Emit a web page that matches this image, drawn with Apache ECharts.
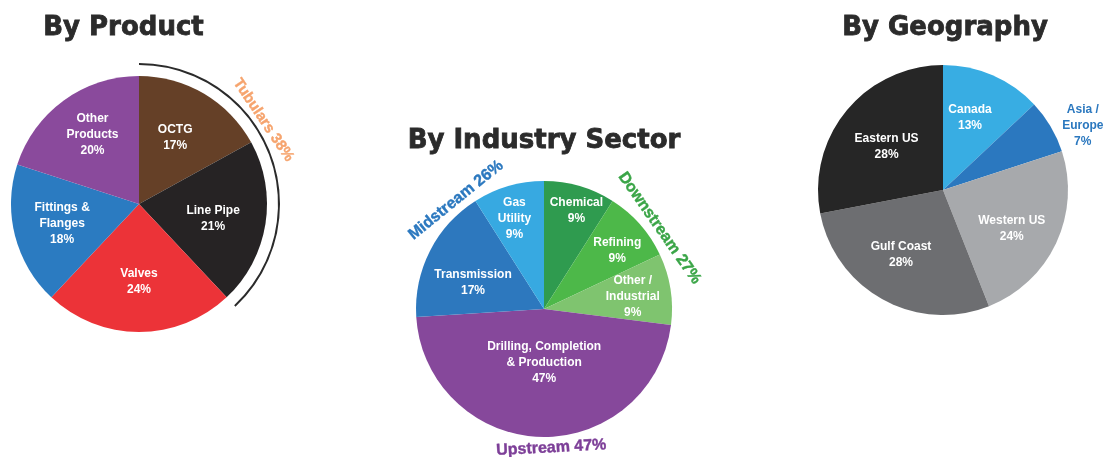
<!DOCTYPE html>
<html>
<head>
<meta charset="utf-8">
<script src="https://cdn.jsdelivr.net/npm/echarts@6/dist/echarts.min.js"></script>
<style>
  html, body { margin: 0; padding: 0; background: #fff; }
  #chart { width: 1110px; height: 457px; }
</style>
</head>
<body>
<div id="chart"></div>
<script>
// data (percent of sales)
var productNames = ['OCTG', 'Line Pipe', 'Valves', 'Fittings &\nFlanges', 'Other\nProducts'];
var productValues = [17, 21, 24, 18, 20];
var tubularCount = 2; // OCTG + Line Pipe

var sectorNames = ['Chemical', 'Refining', 'Other /\nIndustrial', 'Drilling, Completion\n& Production', 'Transmission', 'Gas\nUtility'];
var sectorValues = [9, 9, 9, 47, 17, 9];
var sectorGroups = [
  { name: 'Downstream', from: 0, to: 3 },
  { name: 'Upstream', from: 3, to: 4 },
  { name: 'Midstream', from: 4, to: 6 }
];

var geoNames = ['Canada', 'Asia /\nEurope', 'Western US', 'Gulf Coast', 'Eastern US'];
var geoValues = [13, 7, 24, 28, 28];

// colours
var productColors = ['#654027', '#262324', '#ec3338', '#2b7bc1', '#8a4a9c'];
var sectorColors = ['#2f9b4f', '#4db849', '#7fc46f', '#86489b', '#2d78be', '#37a9e1'];
var geoColors = ['#38ade3', '#2b78bf', '#a7a9ac', '#6d6e71', '#262626'];

// layout
var productCenter = [139, 204], productRadius = 128;
var sectorCenter = [544, 309], sectorRadius = 128;
var geoCenter = [943, 190], geoRadius = 125;

// label placement: [radius factor, angle shift from slice middle]
var productPlace = [[0.59, -2], [0.59, 2], [0.61, 0], [0.62, 0], [0.65, 2]];
var sectorPlace = [[0.81, 2], [0.73, 3], [0.70, 1], [0.42, -2], [0.59, -7], [0.74, -2]];
var geoPlace = [[0.62, -3], [1.23, 6], [0.63, 4], [0.62, 4], [0.57, -2]];

function sum(arr) {
  return arr.reduce(function(a, b) { return a + b; }, 0);
}

function polar(c, r, deg) {
  var a = deg * Math.PI / 180;
  return [c[0] + r * Math.sin(a), c[1] - r * Math.cos(a)];
}

function midAngles(values) {
  var total = sum(values), acc = 0;
  return values.map(function(v) {
    var m = (acc + v / 2) / total * 360;
    acc += v;
    return m;
  });
}

function makeLayout(center, radius, values, place) {
  var mids = midAngles(values);
  return function(params) {
    var p = place[params.dataIndex];
    var pt = polar(center, radius * p[0], mids[params.dataIndex] + p[1]);
    return { x: pt[0], y: pt[1], align: 'center', verticalAlign: 'middle' };
  };
}

function pieSeries(names, values, colors, center, radius, place) {
  return {
    type: 'pie',
    center: center,
    radius: [0, radius],
    startAngle: 90,
    clockwise: true,
    silent: true,
    avoidLabelOverlap: false,
    label: {
      show: true,
      position: 'inside',
      color: '#fff',
      fontFamily: 'Liberation Sans',
      fontWeight: 'bold',
      fontSize: 12,
      lineHeight: 16,
      align: 'center',
      formatter: function(p) { return p.name + '\n' + p.value + '%'; }
    },
    labelLine: { show: false },
    labelLayout: makeLayout(center, radius, values, place),
    itemStyle: { borderWidth: 0 },
    data: names.map(function(n, i) {
      return { name: n, value: values[i], itemStyle: { color: colors[i] } };
    })
  };
}

// straight rotated text sitting on the rim of a pie
function arcText(text, center, r, deg, rot, color, size) {
  var pt = polar(center, r, deg);
  return {
    type: 'text',
    x: pt[0],
    y: pt[1],
    rotation: rot * Math.PI / 180,
    silent: true,
    style: {
      text: text,
      fill: color,
      stroke: color,
      lineWidth: 0.4,
      fontFamily: 'Liberation Sans',
      fontWeight: 'bold',
      fontSize: size,
      align: 'center',
      verticalAlign: 'middle'
    }
  };
}

var titleStyle = {
  fontFamily: 'DejaVu Sans',
  fontWeight: 'bold',
  fontSize: 26,
  color: '#2b2b2b',
  textBorderColor: '#2b2b2b',
  textBorderWidth: 0.8
};

var tubularValue = sum(productValues.slice(0, tubularCount));
var groupText = sectorGroups.map(function(g) {
  return g.name + ' ' + sum(sectorValues.slice(g.from, g.to)) + '%';
});

var chart = echarts.init(document.getElementById('chart'));

var geoSeries = pieSeries(geoNames, geoValues, geoColors, geoCenter, geoRadius, geoPlace);
geoSeries.data[1].label = { color: '#2b78bf' };

chart.setOption({
  animation: false,
  title: [
    { text: 'By Product', left: 118.5, top: 10, textAlign: 'center', textStyle: titleStyle },
    { text: 'By Industry Sector', left: 539, top: 123, textAlign: 'center', textStyle: titleStyle },
    { text: 'By Geography', left: 940, top: 10, textAlign: 'center', textStyle: titleStyle }
  ],
  series: [
    pieSeries(productNames, productValues, productColors, productCenter, productRadius, productPlace),
    {
      // thin arc around the tubular slices
      type: 'pie',
      center: productCenter,
      radius: [139, 141],
      startAngle: 90,
      silent: true,
      label: { show: false },
      labelLine: { show: false },
      data: [
        { value: tubularValue, itemStyle: { color: '#2b2b2b' } },
        { value: sum(productValues) - tubularValue, itemStyle: { color: 'transparent' } }
      ]
    },
    pieSeries(sectorNames, sectorValues, sectorColors, sectorCenter, sectorRadius, sectorPlace),
    geoSeries
  ],
  graphic: [
    arcText('Tubulars ' + tubularValue + '%', productCenter, 150, 56, -56, '#f6a46e', 15),
    arcText(groupText[0], sectorCenter, 141, 55, -55, '#3aa547', 16),
    arcText(groupText[1], sectorCenter, 139, 177, 3, '#7d3f98', 16),
    arcText(groupText[2], sectorCenter, 140, 321, 39, '#2b78bf', 16)
  ]
});
</script>
</body>
</html>
